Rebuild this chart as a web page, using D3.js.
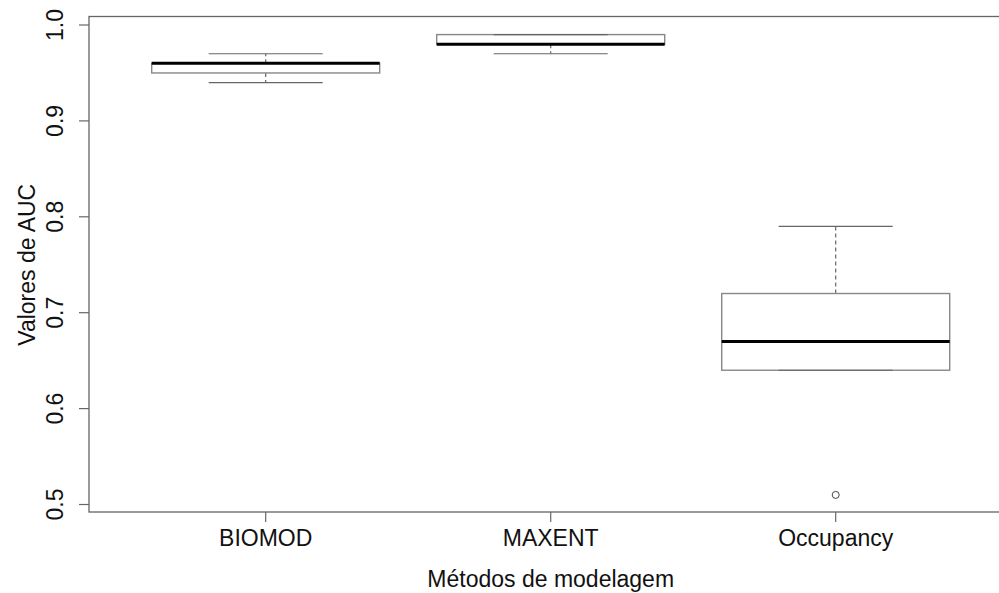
<!DOCTYPE html>
<html lang="pt">
<head>
    <meta charset="UTF-8">
    <title>AUC boxplot</title>
    <style>
        body { margin: 0; background: #fff; }
        text { font-family: "Liberation Sans", Arial, sans-serif; fill: #111; }
    </style>
</head>
<body>
<script src="https://d3js.org/d3.v7.min.js"></script>
<script>
    // dados
    let metodos = ["BIOMOD", "MAXENT", "Occupancy"];
    let minimos = [0.94, 0.97, 0.64];
    let q1 = [0.95, 0.98, 0.64];
    let medianas = [0.96, 0.98, 0.67];
    let q3 = [0.96, 0.99, 0.72];
    let maximos = [0.97, 0.99, 0.79];
    let outliers = [[], [], [0.51]];
    let yTicks = [0.5, 0.6, 0.7, 0.8, 0.9, 1.0];

    let w = 999, h = 593;

    let svg = d3.select("body")
        .append("svg")
        .attr("width", w)
        .attr("height", h);

    let x = d3.scaleLinear().domain([0.38, 3.62]).range([89, 89 + 3.24 * 285]);
    let y = d3.scaleLinear().domain([0.5, 1.0]).range([504.5, 25]);

    let box = [];
    for (let i = 0; i < metodos.length; ++i) {
        box.push({
            nome: metodos[i], pos: i + 1,
            min: minimos[i], q1: q1[i], med: medianas[i], q3: q3[i], max: maximos[i],
            out: outliers[i]
        });
    }

    let cor = "#666";
    let fs = "23px";

    // moldura
    svg.append("rect")
        .attr("x", x(0.38))
        .attr("y", 16.5)
        .attr("width", x(3.62) - x(0.38))
        .attr("height", 512 - 16.5)
        .attr("fill", "none")
        .attr("stroke", cor)
        .attr("stroke-width", 1.3);

    // eixo y
    let yAxis = svg.append("g").attr("transform", "translate(" + x(0.38) + ",0)");
    yAxis.selectAll("line")
        .data(yTicks)
        .enter()
        .append("line")
        .attr("x1", -10).attr("x2", 0)
        .attr("y1", d => y(d)).attr("y2", d => y(d))
        .attr("stroke", cor).attr("stroke-width", 1.2);
    yAxis.selectAll("text")
        .data(yTicks)
        .enter()
        .append("text")
        .attr("transform", d => "translate(" + (63 - x(0.38)) + "," + y(d) + ") rotate(-90)")
        .attr("text-anchor", "middle")
        .style("font-size", fs)
        .text(d => d3.format(".1f")(d));

    // eixo x
    let xAxis = svg.append("g").attr("transform", "translate(0,512)");
    xAxis.selectAll("line")
        .data(box)
        .enter()
        .append("line")
        .attr("x1", d => x(d.pos)).attr("x2", d => x(d.pos))
        .attr("y1", 0).attr("y2", 10)
        .attr("stroke", cor).attr("stroke-width", 1.2);
    xAxis.selectAll("text")
        .data(box)
        .enter()
        .append("text")
        .attr("x", d => x(d.pos))
        .attr("y", 34)
        .attr("text-anchor", "middle")
        .style("font-size", fs)
        .text(d => d.nome);

    // titulos
    svg.append("text")
        .attr("x", x(2))
        .attr("y", 587)
        .attr("text-anchor", "middle")
        .style("font-size", fs)
        .text("Métodos de modelagem");
    svg.append("text")
        .attr("transform", "translate(35," + y(0.75) + ") rotate(-90)")
        .attr("text-anchor", "middle")
        .style("font-size", fs)
        .text("Valores de AUC");

    // caixas
    let g = svg.selectAll("g.box")
        .data(box)
        .enter()
        .append("g")
        .attr("class", "box");

    // bigodes tracejados
    g.append("line")
        .attr("x1", d => x(d.pos)).attr("x2", d => x(d.pos))
        .attr("y1", d => y(d.q3)).attr("y2", d => y(d.max))
        .attr("stroke", cor).attr("stroke-width", 1.2)
        .attr("stroke-dasharray", "4,3");
    g.append("line")
        .attr("x1", d => x(d.pos)).attr("x2", d => x(d.pos))
        .attr("y1", d => y(d.q1)).attr("y2", d => y(d.min))
        .attr("stroke", cor).attr("stroke-width", 1.2)
        .attr("stroke-dasharray", "4,3");

    g.append("rect")
        .attr("x", d => x(d.pos - 0.4))
        .attr("y", d => y(d.q3))
        .attr("width", x(1.4) - x(0.6))
        .attr("height", d => y(d.q1) - y(d.q3))
        .attr("fill", "#fff")
        .attr("stroke", "#888")
        .attr("stroke-width", 1.4);

    // extremos
    g.append("line")
        .attr("x1", d => x(d.pos - 0.2)).attr("x2", d => x(d.pos + 0.2))
        .attr("y1", d => y(d.max)).attr("y2", d => y(d.max))
        .attr("stroke", cor).attr("stroke-width", 1.2);
    g.append("line")
        .attr("x1", d => x(d.pos - 0.2)).attr("x2", d => x(d.pos + 0.2))
        .attr("y1", d => y(d.min)).attr("y2", d => y(d.min))
        .attr("stroke", cor).attr("stroke-width", 1.2);

    // mediana
    g.append("line")
        .attr("x1", d => x(d.pos - 0.4)).attr("x2", d => x(d.pos + 0.4))
        .attr("y1", d => y(d.med)).attr("y2", d => y(d.med))
        .attr("stroke", "#000").attr("stroke-width", 3);

    // pontos fora
    g.selectAll("circle")
        .data(d => d.out.map(v => ({pos: d.pos, v: v})))
        .enter()
        .append("circle")
        .attr("cx", d => x(d.pos))
        .attr("cy", d => y(d.v))
        .attr("r", 3.5)
        .attr("fill", "none")
        .attr("stroke", "#444")
        .attr("stroke-width", 1);
</script>
</body>
</html>
